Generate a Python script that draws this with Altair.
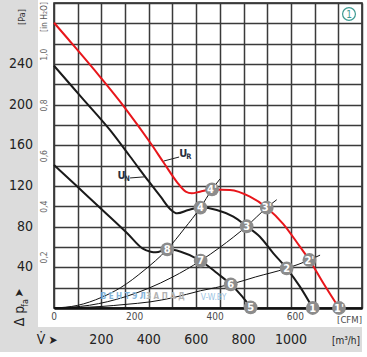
import altair as alt
import pandas as pd

FONT = "Liberation Sans Narrow, DejaVu Sans Condensed, Arial, sans-serif"

# ---- characteristic curves (flow in m³/h, pressure in Pa) ----
ur_flow = [0, 63, 197, 300, 408, 464, 519, 556, 581, 616, 667, 743, 827, 898, 968, 1038, 1078, 1137, 1203]
ur_pa = [280.6, 263.6, 226.7, 196.7, 162, 142.6, 123.9, 114.4, 112.8, 114.4, 116.6, 116.1, 109.5, 98.7, 82.6, 60.3, 47.2, 24.3, 0]

un_flow = [0, 118, 236, 321, 401, 450, 490, 520, 567, 618, 687, 757, 813, 869, 926, 982, 1038, 1092]
un_pa = [238.3, 206.7, 175.1, 149, 124.2, 109.5, 97.4, 93.1, 96.4, 98.8, 96.4, 89.8, 80.4, 70.1, 53.8, 39, 21, 0]

lo_flow = [0, 105, 211, 309, 373, 408, 430, 478, 535, 619, 689, 746, 795, 830]
lo_pa = [140.7, 118, 95, 73.5, 58.7, 55.4, 54.8, 57.7, 55.4, 46.5, 34.1, 23.3, 11.1, 0.7]

# ---- system resistance curves ----
sa_flow = [0, 100, 200, 281, 380, 478, 550, 618, 667, 701]
sa_pa = [0, 2.6, 10.4, 20, 37, 57.7, 78, 98.8, 116.6, 127]
sb_flow = [0, 150, 300, 400, 500, 619, 700, 813, 898, 940]
sb_pa = [0, 2.7, 11, 19.5, 30.4, 46.5, 59.6, 80.4, 98.7, 106.5]
sc_flow = [0, 200, 300, 405, 500, 619, 746, 850, 982, 1078, 1123]
sc_pa = [0, 1.5, 3.5, 6, 10, 17, 23.3, 30.5, 39, 47.2, 52]

# ---- operating points ----
pt_labels = ["1", "1'", "2", "2'", "3", "3'", "4", "4'", "5", "6", "7", "8"]
pt_flow = [1092, 1203, 982, 1078, 813, 898, 618, 667, 830, 746, 619, 478]
pt_pa = [0, 0, 39, 47.2, 80.4, 98.7, 98.8, 116.6, 0.7, 23.3, 46.5, 57.7]

# ---- axis texts ----
pa_ticks = [40, 80, 120, 160, 200, 240]
inh2o_labels = ["0,2", "0,4", "0,6", "0,8", "1,0"]
inh2o_pa = [49.8, 99.6, 149.4, 199.2, 249.1]
cfm_labels = ["0", "200", "400", "600"]
cfm_flow = [0, 340, 680, 1019]
m3h_ticks = [200, 400, 600, 800, 1000]
grid_flow = list(range(0, 1400, 100))
grid_pa = list(range(0, 320, 20))

# ---- curve name labels ----
name_text = ["U", "R", "U", "N"]
name_flow = [546, 569, 285, 308]
name_pa = [151.5, 148.2, 129.5, 126.9]
name_size = [11, 7.5, 11, 7.5]
lead_flow = [464, 321]
lead_flow2 = [528, 388]
lead_pa = [144.6, 127.9]
lead_pa2 = [148.5, 129.1]

xs = alt.Scale(domain=[0, 1300], nice=False, zero=False)
ys = alt.Scale(domain=[0, 300], nice=False, zero=False)
xaxis = alt.Axis(values=grid_flow, grid=True, labels=False, ticks=False, title=None,
                 domain=True, domainColor="#111", domainWidth=2.5,
                 gridColor="#3a3a3a", gridWidth=1.5)
yaxis = alt.Axis(values=grid_pa, grid=True, labels=False, ticks=False, title=None,
                 domain=False, gridColor="#3a3a3a", gridWidth=1.5)
X = alt.X("flow:Q", scale=xs, axis=xaxis)
Y = alt.Y("pa:Q", scale=ys, axis=yaxis)
one = pd.DataFrame({"a": [0]})


def curve(flow, pa, color, width):
    return alt.Chart(pd.DataFrame({"flow": flow, "pa": pa})).mark_line(
        color=color, strokeWidth=width, interpolate="monotone").encode(x=X, y=Y)


def label(text, x, y, size, color="#222", **kw):
    return alt.Chart(one).mark_text(text=text, fontSize=size, font=FONT, color=color, **kw).encode(
        x=alt.value(x), y=alt.value(y))


gray = "#dcdcdc"
panel_left = alt.Chart(one).mark_rect(color=gray).encode(
    x=alt.value(-54), x2=alt.value(-16), y=alt.value(-3), y2=alt.value(349))
panel_bottom = alt.Chart(one).mark_rect(color=gray).encode(
    x=alt.value(-54), x2=alt.value(308), y=alt.value(324), y2=alt.value(349))

layers = [panel_left, panel_bottom]
layers += [curve(sa_flow, sa_pa, "#111", 1), curve(sb_flow, sb_pa, "#111", 1), curve(sc_flow, sc_pa, "#111", 1)]
layers += [curve(lo_flow, lo_pa, "#1a1a1a", 2), curve(un_flow, un_pa, "#1a1a1a", 2), curve(ur_flow, ur_pa, "#e8161b", 2)]

leads = pd.DataFrame({"flow": lead_flow, "flow2": lead_flow2, "pa": lead_pa, "pa2": lead_pa2})
layers.append(alt.Chart(leads).mark_rule(color="#222", strokeWidth=1).encode(
    x=X, x2="flow2:Q", y=Y, y2="pa2:Q"))

names = pd.DataFrame({"flow": name_flow, "pa": name_pa, "t": name_text, "s": name_size})
layers.append(alt.Chart(names).mark_text(font=FONT, color="#2a3040", fontWeight="bold").encode(
    x=X, y=Y, text="t:N", size=alt.Size("s:Q", scale=None, legend=None)))

pts = pd.DataFrame({"flow": pt_flow, "pa": pt_pa, "t": pt_labels})
layers.append(alt.Chart(pts).mark_circle(size=190, color="#8c8c8c", opacity=1).encode(x=X, y=Y))
layers.append(alt.Chart(pts).mark_text(font=FONT, fontSize=11, fontWeight="bold", color="white", dy=0.5).encode(
    x=X, y=Y, text="t:N"))

# badge
layers.append(alt.Chart(one).mark_point(shape="circle", filled=False, color="#3e9b93", size=165, strokeWidth=1.2,
                                        opacity=1).encode(x=alt.value(295), y=alt.value(11)))
layers.append(label("1", 295, 11.5, 10, color="#3e9b93"))

# watermark
layers.append(label("В Е Н Т Э Л", 46.7, 294, 8, color="#86b6dc", align="left", fontWeight="bold"))
layers.append(label("З А П А Д", 92, 294, 8, color="#b3b3b3", align="left", fontWeight="bold"))
layers.append(label("V-W.BY", 146.7, 294, 8.5, color="#9cc3e2", align="left"))

# Pa labels
layers.append(alt.Chart(pd.DataFrame({"pa": pa_ticks})).mark_text(
    font=FONT, fontSize=14, color="#222", align="right").encode(
    x=alt.value(-21), y=Y, text="pa:Q"))
# in H2O labels
layers.append(alt.Chart(pd.DataFrame({"pa": inh2o_pa, "t": inh2o_labels})).mark_text(
    font=FONT, fontSize=8.5, color="#666", angle=270).encode(
    x=alt.value(-10), y=Y, text="t:N"))
# CFM labels
layers.append(alt.Chart(pd.DataFrame({"flow": cfm_flow, "t": cfm_labels})).mark_text(
    font=FONT, fontSize=10, color="#4a4a4a").encode(
    x=X, y=alt.value(313.7), text="t:N"))
# m3/h labels
layers.append(alt.Chart(pd.DataFrame({"flow": m3h_ticks})).mark_text(
    font=FONT, fontSize=14, color="#222").encode(
    x=X, y=alt.value(337), text="flow:Q"))

layers.append(label("[CFM]", 308, 316.5, 9.5, color="#4a4a4a", align="right"))
layers.append(label("[m³/h]", 306, 338, 10, color="#222", align="right"))
layers.append(label("[Pa]", -32, 14, 9, color="#333", angle=270))
layers.append(label("[in H₂O]", -10, 14, 8.5, color="#555", angle=270))
layers.append(label("Δ p", -34, 313, 14, color="#222", angle=270))
layers.append(label("fa", -29, 300, 9, color="#222", angle=270))
layers.append(label("➤", -35, 290, 12, color="#222", angle=270))
layers.append(label("V\u0307", -13, 337, 14, color="#222"))
layers.append(label("➤", -1, 337, 12, color="#222"))

chart = alt.layer(*layers).properties(
    width=308, height=305,
    autosize=alt.AutoSizeParams(type="none"),
    padding={"left": 54, "top": 3, "right": 5, "bottom": 49},
    background="white",
).configure_view(stroke="#1a1a1a", strokeWidth=1.5, fill="white")

chart.save("out.html", embed_options={"renderer": "svg", "actions": False})
